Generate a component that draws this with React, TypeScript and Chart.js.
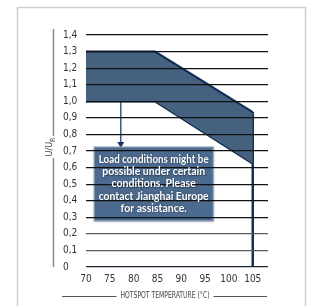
import React, { useEffect, useRef } from "react";
import { Chart, registerables } from "chart.js";

Chart.register(...registerables);

// ---- data ----
const xTickValues = [70, 75, 80, 85, 90, 95, 100, 105];
const xRange = [70, 108.2];
const yTickValues = [0, 0.1, 0.2, 0.3, 0.4, 0.5, 0.6, 0.7, 0.8, 0.9, 1.0, 1.1, 1.2, 1.3, 1.4];
const boundX = [70, 84.5, 105];
const upperY = [1.3, 1.3, 0.935];
const lowerY = [1.0, 1.0, 0.625];
const cutoffX = [105, 105];
const cutoffY = [0.935, 0];
const arrowX = [77.3, 77.3];
const arrowY = [1.03, 0.742];
const noteBoxX = [71.7, 96.7];
const noteBoxY = [0.278, 0.724];
const noteLines = [
  "Load conditions might be",
  "possible under certain",
  "conditions. Please",
  "contact Jianghai Europe",
  "for assistance.",
];
const yTitleMain = "U/U";
const yTitleSub = "R";
const xTitle = "HOTSPOT TEMPERATURE (°C)";

const NARROW = "'Liberation Sans Narrow', 'DejaVu Sans Condensed', Roboto, sans-serif";

const pts = (xs: number[], ys: number[]) => xs.map((x, i) => ({ x, y: ys[i] }));

const decor = {
  id: "decor",
  beforeDraw(chart: any) {
    const c = chart.ctx;
    c.save();
    c.strokeStyle = "#cfcfcf";
    c.lineWidth = 1.5;
    c.strokeRect(17.5, 7.5, 288, 310);
    c.restore();
  },
  afterDatasetsDraw(chart: any) {
    const c = chart.ctx;
    const xs = chart.scales.x;
    const ys = chart.scales.y;
    const l = xs.getPixelForValue(noteBoxX[0]);
    const r = xs.getPixelForValue(noteBoxX[1]);
    const t = ys.getPixelForValue(noteBoxY[1]);
    const b = ys.getPixelForValue(noteBoxY[0]);
    c.save();
    c.shadowColor = "rgba(0,0,0,0.25)";
    c.shadowBlur = 2;
    c.shadowOffsetX = 1;
    c.shadowOffsetY = 1;
    c.fillStyle = "#4b6a8e";
    c.fillRect(l, t, r - l, b - t);
    c.restore();
    c.save();
    c.strokeStyle = "#8aa0b9";
    c.lineWidth = 1.2;
    c.strokeRect(l, t, r - l, b - t);
    c.restore();
  },
  afterDraw(chart: any) {
    const c = chart.ctx;
    const xs = chart.scales.x;
    const ys = chart.scales.y;
    const area = chart.chartArea;
    // note text
    const l = xs.getPixelForValue(noteBoxX[0]);
    const r = xs.getPixelForValue(noteBoxX[1]);
    const t = ys.getPixelForValue(noteBoxY[1]);
    const b = ys.getPixelForValue(noteBoxY[0]);
    const cx = (l + r) / 2;
    const lh = 12.3;
    const startY = (t + b) / 2 - ((noteLines.length - 1) * lh) / 2;
    c.save();
    c.font = "bold 10.5px Lato, 'Open Sans', sans-serif";
    c.textAlign = "center";
    c.textBaseline = "middle";
    c.shadowColor = "rgba(0,0,0,0.5)";
    c.shadowBlur = 1.5;
    c.shadowOffsetX = 0.5;
    c.shadowOffsetY = 0.5;
    c.fillStyle = "#ffffff";
    noteLines.forEach((s, i) => c.fillText(s, cx, startY + i * lh, 110));
    c.restore();

    // y title with bracket lines
    c.save();
    c.strokeStyle = "#8c8c8c";
    c.lineWidth = 1.5;
    c.beginPath();
    c.moveTo(53.5, 29);
    c.lineTo(53.5, 136);
    c.moveTo(53.5, 158);
    c.lineTo(53.5, area.bottom);
    c.stroke();
    c.translate(51, 147);
    c.rotate(-Math.PI / 2);
    c.fillStyle = "#444";
    c.font = "9px " + NARROW;
    c.textBaseline = "middle";
    const w1 = c.measureText(yTitleMain).width;
    c.font = "7px " + NARROW;
    const w2 = c.measureText(yTitleSub).width;
    const sx = -(w1 + w2) / 2;
    c.font = "9px " + NARROW;
    c.textAlign = "left";
    c.fillText(yTitleMain, sx, -1);
    c.font = "7px " + NARROW;
    c.fillText(yTitleSub, sx + w1, 2);
    c.restore();

    // x title with lines
    c.save();
    c.font = "8px " + NARROW;
    c.fillStyle = "#444";
    c.textAlign = "center";
    c.textBaseline = "middle";
    const tcx = 165;
    const ty = 296;
    const tw = 89;
    c.fillText(xTitle, tcx, ty, tw);
    c.strokeStyle = "#555";
    c.lineWidth = 1;
    c.beginPath();
    c.moveTo(62, ty + 0.5);
    c.lineTo(tcx - tw / 2 - 4, ty + 0.5);
    c.moveTo(tcx + tw / 2 + 4, ty + 0.5);
    c.lineTo(267, ty + 0.5);
    c.stroke();
    c.restore();
  },
};

export default function App() {
  const ref = useRef<HTMLCanvasElement | null>(null);
  useEffect(() => {
    if (!ref.current) return;
    const chart = new Chart(ref.current, {
      type: "line",
      data: {
        datasets: [
          {
            data: pts(boundX, upperY),
            borderColor: "#0f2b52",
            borderWidth: 2,
            backgroundColor: "#45617f",
            fill: "+1",
            pointRadius: 0,
          },
          {
            data: pts(boundX, lowerY),
            borderColor: "#0f2b52",
            borderWidth: 2.5,
            fill: false,
            pointRadius: 0,
          },
          {
            data: pts(cutoffX, cutoffY),
            borderColor: "#13315c",
            borderWidth: 2.5,
            fill: false,
            pointRadius: 0,
          },
          {
            data: pts(arrowX, arrowY),
            borderColor: "#3d5b80",
            borderWidth: 1.5,
            fill: false,
            pointRadius: [0, 4],
            pointStyle: "triangle",
            rotation: 180,
            pointBackgroundColor: "#17355e",
            pointBorderColor: "#17355e",
            pointBorderWidth: 0,
          },
        ],
      },
      options: {
        animation: false,
        responsive: false,
        events: [],
        layout: { padding: { left: 63, top: 35, right: 44, bottom: 0 } },
        plugins: { legend: { display: false }, tooltip: { enabled: false } },
        scales: {
          x: {
            type: "linear",
            min: xRange[0],
            max: xRange[1],
            afterBuildTicks: (s: any) => {
              s.ticks = xTickValues.map((v) => ({ value: v }));
            },
            afterFit: (s: any) => {
              s.height = 39;
            },
            grid: { display: false, drawTicks: false },
            border: { display: false },
            ticks: {
              padding: 6,
              maxRotation: 0,
              autoSkip: false,
              color: "#333",
              font: { family: NARROW, size: 10 },
            },
          },
          y: {
            type: "linear",
            min: 0,
            max: 1.4,
            afterBuildTicks: (s: any) => {
              s.ticks = yTickValues.map((v) => ({ value: v }));
            },
            afterFit: (s: any) => {
              s.width = 23;
            },
            grid: {
              z: 1,
              drawTicks: false,
              lineWidth: 1.2,
              color: (ctx: any) => {
                const v = ctx.tick ? ctx.tick.value : 1;
                if (Math.abs(v) < 1e-6) return "#1c2636";
                if (v < 0.25) return "#5a5a5a";
                return "#111111";
              },
            },
            border: { display: false },
            ticks: {
              crossAlign: "far",
              padding: 0,
              autoSkip: false,
              color: "#333",
              font: { family: NARROW, size: 10 },
              callback: (v: any) => (Number(v) === 0 ? "0" : Number(v).toFixed(1).replace(".", ",")),
            },
          },
        },
      },
      plugins: [decor],
    });
    return () => chart.destroy();
  }, []);
  return (
    <div style={{ position: "fixed", left: 0, top: 0, width: 312, height: 306, background: "#fff" }}>
      <canvas ref={ref} width={312} height={306} style={{ width: 312, height: 306, display: "block" }} />
    </div>
  );
}
